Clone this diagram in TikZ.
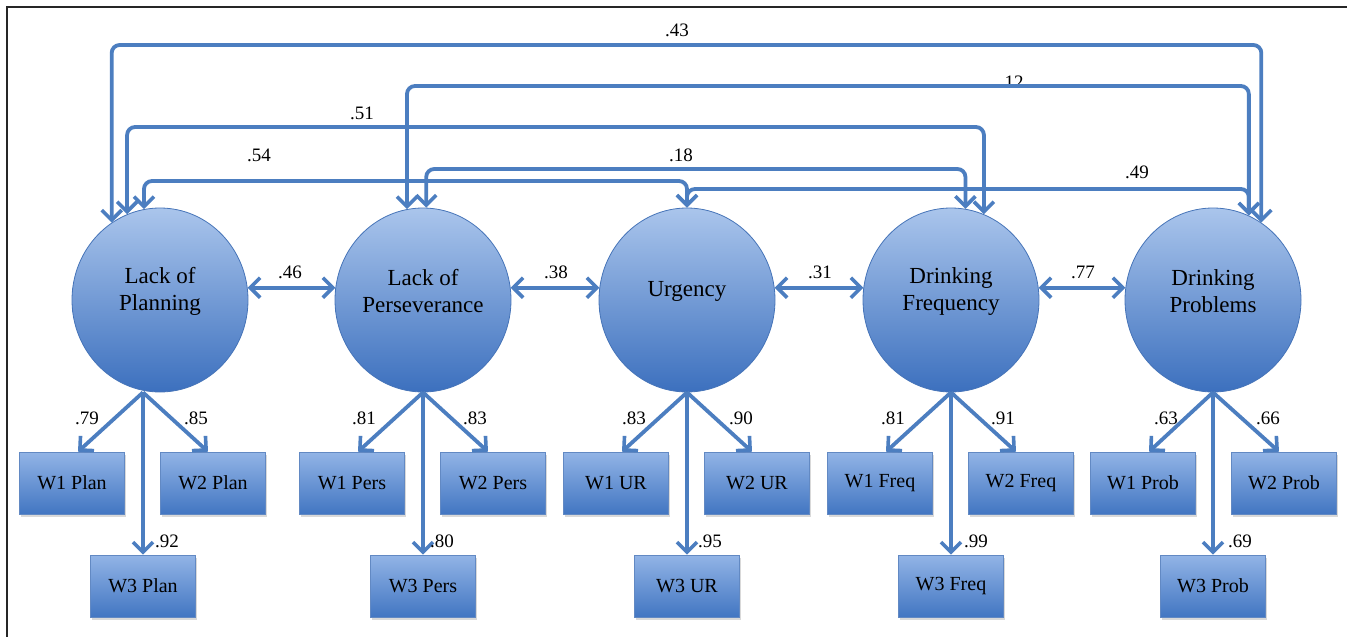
\documentclass[tikz,border=0pt]{standalone}
\usepackage{fontspec}
\setmainfont{Liberation Serif}
\usetikzlibrary{arrows.meta,shapes.geometric,shadows}
\definecolor{lineblue}{RGB}{76,126,192}
\definecolor{circtop}{RGB}{170,197,236}
\definecolor{circbot}{RGB}{60,112,190}
\definecolor{boxtop}{RGB}{146,180,230}
\definecolor{boxbot}{RGB}{66,118,194}
\definecolor{edgeblue}{RGB}{70,116,184}
\tikzset{
  latent/.style={ellipse, minimum width=176pt, minimum height=184pt, inner sep=0pt,
    draw=edgeblue, line width=0.8pt, top color=circtop, bottom color=circbot},
  lattext/.style={font=\fontsize{23}{27}\selectfont, align=center, inner sep=0pt, yshift=9pt},
  obs/.style={rectangle, minimum width=105pt, minimum height=62pt, inner sep=0pt,
    draw=edgeblue!85, line width=0.6pt, top color=boxtop, bottom color=boxbot,
    font=\fontsize{20}{24}\selectfont,
    drop shadow={shadow xshift=1.5pt, shadow yshift=-3pt, opacity=0.3}},
  num/.style={font=\fontsize{19}{22}\selectfont, inner sep=0pt},
  tip/.tip={Straight Barb[length=10pt,width=20pt,line width=3.6pt]},
  load/.style={draw=lineblue, line width=3.8pt, -tip},
  cov/.style={draw=lineblue, line width=3.8pt, tip-tip, rounded corners=8pt},
  frame/.style={draw=black!85, line width=2pt}
}
\begin{document}
\begin{tikzpicture}[x=1pt, y=-1pt]
\useasboundingbox (0,0) rectangle (1347,637);
% frame
\coordinate (fbl) at (7,637);
\coordinate (ftl) at (7,7);
\coordinate (ftr) at (1347,7);
\draw[frame] (fbl) -- (ftl) -- (ftr);

% latent variables
\node[latent, label={[lattext]center:{Lack of\\Planning}}] (c1) at (160,300) {};
\node[latent, label={[lattext]center:{Lack of\\Perseverance}}] (c2) at (423,300) {};
\node[latent, label={[lattext]center:{Urgency}}] (c3) at (687,300) {};
\node[latent, label={[lattext]center:{Drinking\\Frequency}}] (c4) at (951,300) {};
\node[latent, label={[lattext]center:{Drinking\\Problems}}] (c5) at (1213,300) {};

% indicators
\node[obs] (p1) at (72,483) {W1 Plan};
\node[obs] (p2) at (213,483) {W2 Plan};
\node[obs] (p3) at (143,586) {W3 Plan};
\node[obs] (s1) at (352,483) {W1 Pers};
\node[obs] (s2) at (493,483) {W2 Pers};
\node[obs] (s3) at (423,586) {W3 Pers};
\node[obs] (u1) at (616,483) {W1 UR};
\node[obs] (u2) at (757,483) {W2 UR};
\node[obs] (u3) at (687,586) {W3 UR};
\node[obs] (f1) at (880,483) {W1 Freq};
\node[obs] (f2) at (1021,483) {W2 Freq};
\node[obs] (f3) at (951,586) {W3 Freq};
\node[obs] (b1) at (1143,483) {W1 Prob};
\node[obs] (b2) at (1284,483) {W2 Prob};
\node[obs] (b3) at (1213,586) {W3 Prob};

% loadings
\draw[load] ([xshift=-17pt]c1.south) -- ([xshift=6pt]p1.north);
\draw[load] ([xshift=-17pt]c1.south) -- ([xshift=-5pt]p2.north);
\draw[load] ([xshift=-17pt]c1.south) -- (p3.north);
\draw[load] (c2.south) -- ([xshift=6pt]s1.north);
\draw[load] (c2.south) -- ([xshift=-5pt]s2.north);
\draw[load] (c2.south) -- (s3.north);
\draw[load] (c3.south) -- ([xshift=6pt]u1.north);
\draw[load] (c3.south) -- ([xshift=-5pt]u2.north);
\draw[load] (c3.south) -- (u3.north);
\draw[load] (c4.south) -- ([xshift=6pt]f1.north);
\draw[load] (c4.south) -- ([xshift=-5pt]f2.north);
\draw[load] (c4.south) -- (f3.north);
\draw[load] (c5.south) -- ([xshift=6pt]b1.north);
\draw[load] (c5.south) -- ([xshift=-5pt]b2.north);
\draw[load] (c5.south) -- (b3.north);

% loading labels
\node[num] (l79) at (87,418) {.79};
\node[num] (l85) at (196,418) {.85};
\node[num] (l92) at (167,541) {.92};
\node[num] (l81a) at (364,418) {.81};
\node[num] (l83a) at (475,418) {.83};
\node[num] (l80) at (442,541) {.80};
\node[num] (l83b) at (634,418) {.83};
\node[num] (l90) at (741,418) {.90};
\node[num] (l95) at (710,541) {.95};
\node[num] (l81b) at (893,418) {.81};
\node[num] (l91) at (1003,418) {.91};
\node[num] (l99) at (976,541) {.99};
\node[num] (l63) at (1166,418) {.63};
\node[num] (l66) at (1268,418) {.66};
\node[num] (l69) at (1240,541) {.69};

% correlations between neighbours
\draw[cov] (c1.8) -- (c2.172);
\draw[cov] (c2.8) -- (c3.172);
\draw[cov] (c3.8) -- (c4.172);
\draw[cov] (c4.8) -- (c5.172);
\node[num] (r46) at (290,272) {.46};
\node[num] (r38) at (556,272) {.38};
\node[num] (r31) at (820,272) {.31};
\node[num] (r77) at (1083,272) {.77};

% labels of the long correlations
\node[num] (r43) at (677,30) {.43};
\node[num, anchor=base] (r12) at (1014,88) {12};
\node[num] (r51) at (362,113) {.51};
\node[num] (r54) at (259,155) {.54};
\node[num] (r18) at (681,155) {.18};
\node[num] (r49) at (1137,172) {.49};

% long correlations
\coordinate (h43) at (680,45);
\coordinate (h12) at (800,86);
\coordinate (h51) at (560,127);
\coordinate (h18) at (700,169);
\coordinate (h54) at (400,181);
\coordinate (h49) at (900,189);
\draw[cov] (c1.122) |- (h43) -| (c5.58);
\draw[cov] (c2.100) |- (h12) -| (c5.67);
\draw[cov] (c1.111) |- (h51) -| (c4.69);
\draw[cov] (c2.88) |- (h18) -| (c4.81);
\draw[cov] (c1.100) |- (h54) -| (c3.90);
\draw[cov] (c3.90) |- (h49) -| (c5.67);
\end{tikzpicture}
\end{document}
